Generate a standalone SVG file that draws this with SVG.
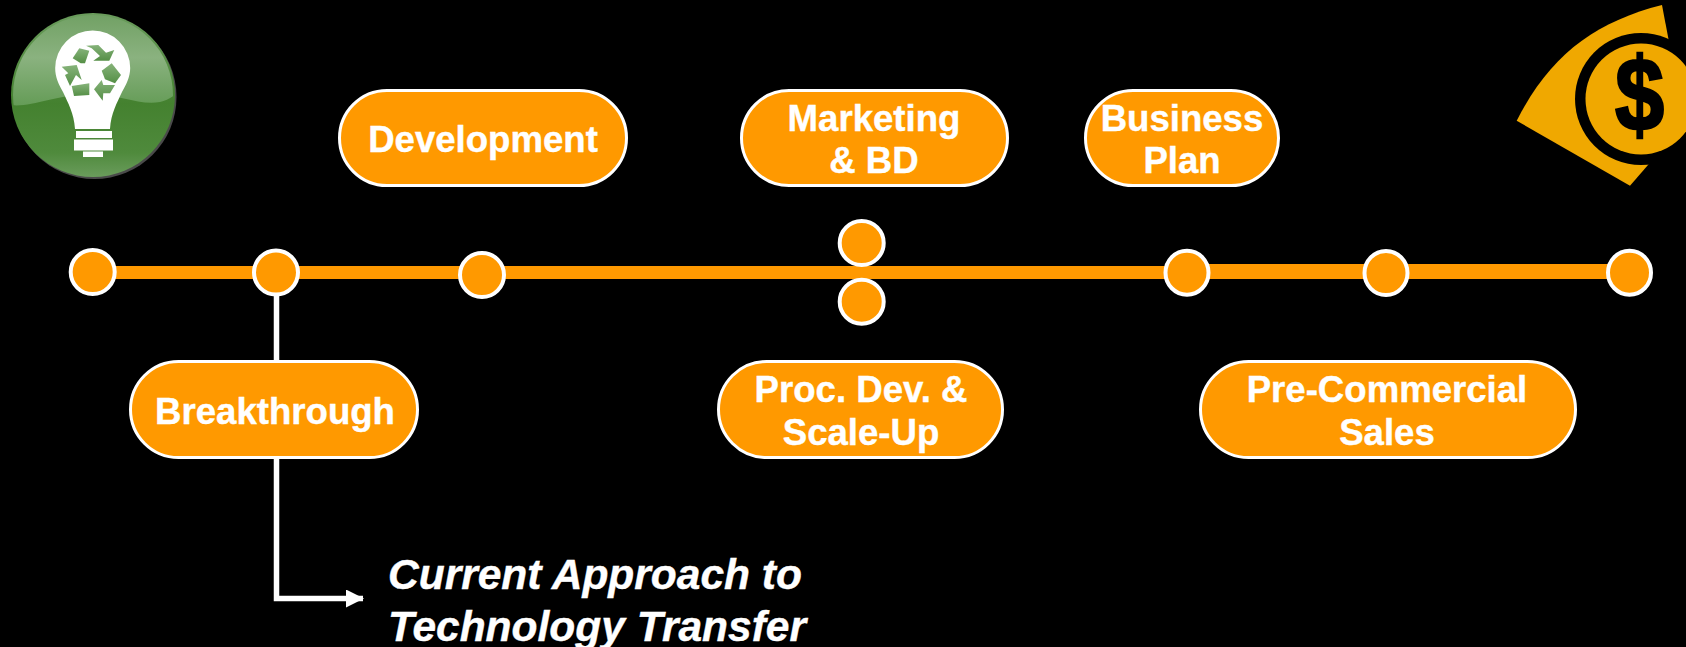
<svg xmlns="http://www.w3.org/2000/svg" width="1686" height="647" viewBox="0 0 1686 647">
<style>
.pill{fill:#ff9900;stroke:#fff;stroke-width:3}
.dot{fill:#ff9900;stroke:#fff;stroke-width:4}
.lbl{font-family:"Liberation Sans",Arial,sans-serif;font-weight:700;font-size:36.600px;fill:#fff;stroke:#fff;stroke-width:.4;text-anchor:middle}
.note{font-family:"Liberation Sans",Arial,sans-serif;font-weight:700;font-style:italic;font-size:42.500px;fill:#fff;stroke:#fff;stroke-width:.4}
.bar{stroke:#ff9900;fill:none}
.rec{fill:url(#recFill)}
</style>
<defs>
<marker id="arrow" markerUnits="userSpaceOnUse" markerWidth="18" markerHeight="18" refX="17" refY="9" orient="auto"><path d="M0 0L18 9L0 18Z" fill="#fff"/></marker>
<linearGradient id="topGloss" x1="0" y1="0" x2="0" y2="1"><stop offset="0" stop-color="#6f9f62"/><stop offset="0.5" stop-color="#8ab27f"/><stop offset="1" stop-color="#659c57"/></linearGradient>
<linearGradient id="ball" x1="0" y1="0" x2="0" y2="1"><stop offset="0" stop-color="#6a9c5c"/><stop offset="0.55" stop-color="#44812f"/><stop offset="0.85" stop-color="#4f8a3c"/><stop offset="1" stop-color="#6a9c5c"/></linearGradient>
<linearGradient id="recFill" x1="0" y1="0" x2="0" y2="1"><stop offset="0" stop-color="#86b37a"/><stop offset="1" stop-color="#558f46"/></linearGradient>
<clipPath id="ballClip"><circle cx="93" cy="95" r="80"/></clipPath>
</defs>
<rect width="1686" height="647" fill="#000"/>
<g id="connectors">
<line class="bar" x1="93" y1="272.500" x2="1187" y2="272.500" stroke-width="13"/>
<line class="bar" x1="1187" y1="271.500" x2="1630" y2="271.500" stroke-width="15"/>
<path d="M276.500 296V598.500H363" fill="none" stroke="#fff" stroke-width="5.500" marker-end="url(#arrow)"/>
</g>
<g id="icon-bulb">
<circle cx="94.500" cy="97" r="82" fill="#4a4a4a"/>
<circle cx="93" cy="95" r="82" fill="url(#ball)"/>
<path clip-path="url(#ballClip)" d="M10 105C30 108 55 95 90 94C120 94 140 106 160 102C168 100 175 96 180 90V10H10Z" fill="url(#topGloss)"/>
<path d="M75 129C74 113 68 103 63 92C59 85 55 77 55.200 68A37.500 37.500 0 0 1 130.200 68C130.200 77 126 85 122 92C117 103 111 113 110 129Z" fill="#fff"/>
<path d="M76 131H112V138H76ZM74 139.500H113V150.500H74ZM83 151.500H103V157H83Z" fill="#fff"/>
<path class="rec" d="M72.700 58.300L79.300 48.300L89.300 50.700L85 63.300L80.700 63.300Z"/>
<path class="rec" d="M86 45.700L98.300 45L106 52.700L114.300 50L109.300 60.700L93.300 60.700L100 56L91.700 48.300Z"/>
<path class="rec" d="M101.700 70.700L111.700 63.300L121 75L115 83.300L105 79.300Z"/>
<path class="rec" d="M94 89.300L101.700 80L103.300 85L115 85L110 93.300L103.300 93.300L102.700 100.700Z"/>
<path class="rec" d="M71.700 86L89.300 83.300L89.300 95L74 96Z"/>
<path class="rec" d="M61.700 66.700L76.700 65L81.700 80L76 75L70 86L65 75L68.300 73.300Z"/>
</g>
<g id="icon-dollar">
<path d="M1662 5L1669 42L1680 120L1648 165L1630 185.700L1516.700 120.700C1550 55 1595 22 1662 5Z" fill="#f0a800"/>
<circle cx="1641" cy="99" r="66" fill="#000"/>
<circle cx="1641" cy="99" r="55.500" fill="#f0a800"/>
<text transform="translate(1639.500 130) scale(.85 1)" x="0" y="0" font-family="'Liberation Sans',Arial,sans-serif" font-weight="700" font-size="104" text-anchor="middle" fill="#000" stroke="#000" stroke-width="2.500">$</text>
</g>
<g id="dot-1"><circle class="dot" cx="92.700" cy="272" r="22"/></g>
<g id="dot-2"><circle class="dot" cx="276" cy="272.500" r="22"/></g>
<g id="dot-3"><circle class="dot" cx="482" cy="275" r="22"/></g>
<g id="dot-4"><circle class="dot" cx="861.700" cy="243" r="22"/></g>
<g id="dot-5"><circle class="dot" cx="861.700" cy="301.700" r="22"/></g>
<g id="dot-6"><ellipse class="dot" cx="1187" cy="272.700" rx="21.500" ry="22"/></g>
<g id="dot-7"><ellipse class="dot" cx="1386" cy="273" rx="21.500" ry="22"/></g>
<g id="dot-8"><ellipse class="dot" cx="1629.500" cy="272.700" rx="21.500" ry="22"/></g>
<g id="node-development"><rect class="pill" x="339.500" y="90.500" width="287" height="95" rx="47.500"/><text class="lbl" x="483" y="152">Development</text></g>
<g id="node-marketing"><rect class="pill" x="741.500" y="90.500" width="266" height="95" rx="47.500"/><text class="lbl" x="874" y="131">Marketing</text><text class="lbl" x="874" y="173">&amp; BD</text></g>
<g id="node-business"><rect class="pill" x="1085.500" y="90.500" width="193" height="95" rx="47.500"/><text class="lbl" x="1182" y="131">Business</text><text class="lbl" x="1182" y="173">Plan</text></g>
<g id="node-breakthrough"><rect class="pill" x="130.500" y="361.500" width="287" height="96" rx="48"/><text class="lbl" x="275" y="424">Breakthrough</text></g>
<g id="node-procdev"><rect class="pill" x="718.500" y="361.500" width="284" height="96" rx="48"/><text class="lbl" x="861" y="402">Proc. Dev. &amp;</text><text class="lbl" x="861" y="445">Scale-Up</text></g>
<g id="node-precommercial"><rect class="pill" x="1200.500" y="361.500" width="375" height="96" rx="48"/><text class="lbl" x="1387" y="402">Pre-Commercial</text><text class="lbl" x="1387" y="445">Sales</text></g>
<g id="note"><text class="note" x="388" y="589">Current Approach to</text><text class="note" x="388" y="641">Technology Transfer</text></g>
</svg>
